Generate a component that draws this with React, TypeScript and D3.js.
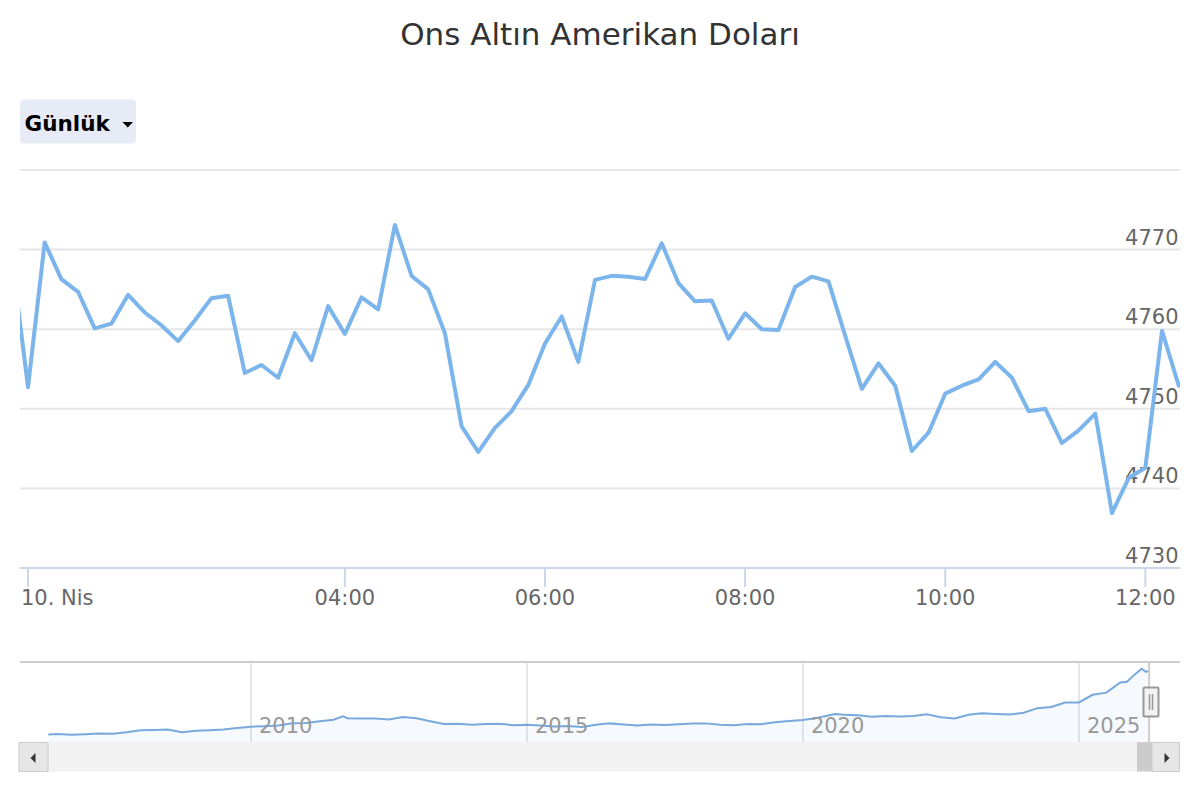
import React from "react";
import * as d3 from "d3";

// ---------- DATA ----------
const TITLE = "Ons Altın Amerikan Doları";
const RANGE_LABEL = "Günlük";

// intraday price, one point per 10 minutes (index 0 is just left of the plot)
const priceValues: number[] = [
  4769.6, 4752.7, 4770.9, 4766.3, 4764.7, 4760.1, 4760.7, 4764.3, 4762.1, 4760.5,
  4758.5, 4761.1, 4763.9, 4764.2, 4754.5, 4755.5, 4753.9, 4759.5, 4756.1, 4762.9,
  4759.4, 4764.0, 4762.5, 4773.1, 4766.7, 4765.0, 4759.5, 4747.8, 4744.6, 4747.6,
  4749.7, 4753.0, 4758.2, 4761.6, 4755.9, 4766.2, 4766.7, 4766.6, 4766.3, 4770.8,
  4765.8, 4763.5, 4763.6, 4758.8, 4762.0, 4760.0, 4759.9, 4765.3, 4766.6, 4766.0,
  4759.2, 4752.5, 4755.7, 4752.9, 4744.7, 4747.0, 4751.9, 4752.9, 4753.7, 4755.9,
  4753.9, 4749.7, 4750.0, 4745.7, 4747.3, 4749.4, 4736.9, 4741.3, 4742.6, 4759.8,
  4752.9,
];

const xTickIndex: number[] = [1, 20, 32, 44, 56, 68];
const xTickLabels: string[] = ["10. Nis", "04:00", "06:00", "08:00", "10:00", "12:00"];
const yTicks: number[] = [4730, 4740, 4750, 4760, 4770, 4780];

// navigator: long-term history
const navDates: string[] = [
  "2006-05-01", "2006-07-01", "2006-10-01", "2007-01-01", "2007-04-01", "2007-07-01", "2007-10-01",
  "2008-01-01", "2008-04-01", "2008-07-01", "2008-10-01", "2009-01-01", "2009-04-01", "2009-07-01",
  "2009-10-01", "2010-01-01", "2010-04-01", "2010-07-01", "2010-10-01", "2011-01-01", "2011-04-01",
  "2011-07-01", "2011-09-01", "2011-10-01", "2012-01-01", "2012-04-01", "2012-07-01", "2012-10-01",
  "2013-01-01", "2013-04-01", "2013-07-01", "2013-10-01", "2014-01-01", "2014-04-01", "2014-07-01",
  "2014-10-01", "2015-01-01", "2015-04-01", "2015-07-01", "2015-10-01", "2016-01-01", "2016-04-01",
  "2016-07-01", "2016-10-01", "2017-01-01", "2017-04-01", "2017-07-01", "2017-10-01", "2018-01-01",
  "2018-04-01", "2018-07-01", "2018-10-01", "2019-01-01", "2019-04-01", "2019-07-01", "2019-10-01",
  "2020-01-01", "2020-04-01", "2020-08-01", "2020-10-01", "2021-01-01", "2021-04-01", "2021-07-01",
  "2021-10-01", "2022-01-01", "2022-04-01", "2022-07-01", "2022-10-01", "2023-01-01", "2023-04-01",
  "2023-07-01", "2023-10-01", "2024-01-01", "2024-04-01", "2024-07-01", "2024-10-01", "2025-01-01",
  "2025-04-01", "2025-07-01", "2025-10-01", "2025-11-15", "2026-01-01", "2026-02-20", "2026-03-20",
  "2026-04-10",
];
const navValues: number[] = [
  610, 635, 590, 630, 680, 665, 755,
  890, 910, 940, 760, 860, 890, 935,
  1040, 1120, 1150, 1195, 1340, 1360, 1470,
  1570, 1800, 1670, 1650, 1650, 1590, 1750,
  1670, 1480, 1290, 1310, 1240, 1300, 1310,
  1220, 1250, 1200, 1130, 1160, 1095, 1240,
  1335, 1265, 1190, 1265, 1235, 1280, 1330,
  1335, 1240, 1215, 1290, 1285, 1410, 1495,
  1560, 1680, 1950, 1900, 1865, 1760, 1810,
  1780, 1815, 1935, 1730, 1660, 1900, 2000,
  1950, 1915, 2035, 2330, 2400, 2690, 2700,
  3200, 3340, 4000, 4050, 4500, 4900, 4700,
  4750,
];
const navYearTicks: number[] = [2010, 2015, 2020, 2025];

// ---------- CHART ----------
const FONT = "DejaVu Sans, Verdana, sans-serif";

export default function App() {
  const plotLeft = 20;
  const plotRight = 1180;
  const plotTop = 170;
  const plotBottom = 568;

  const x = d3.scaleLinear().domain([1, 70]).range([28, 1178.7]);
  const y = d3.scaleLinear().domain([4730, 4780]).range([plotBottom, plotTop]);

  const line = d3
    .line<number>()
    .x((_, i) => x(i))
    .y((d) => y(d));

  // navigator
  const navTop = 662;
  const navBottom = 742;
  const nx = d3
    .scaleTime()
    .domain([new Date(2010, 0, 1), new Date(2025, 0, 1)])
    .range([251, 1079]);
  const ny = d3.scaleLinear().domain([120, 5340]).range([navBottom, navTop]);
  const navData = navDates.map((d, i) => ({ t: new Date(d), v: navValues[i] }));
  const navLine = d3
    .line<{ t: Date; v: number }>()
    .x((d) => nx(d.t))
    .y((d) => ny(d.v));
  const navArea = d3
    .area<{ t: Date; v: number }>()
    .x((d) => nx(d.t))
    .y0(navBottom)
    .y1((d) => ny(d.v));
  const selX = nx(new Date(navDates[navDates.length - 1]));

  return (
    <div style={{ position: "absolute", left: 0, top: 0 }}>
      <svg width={1200} height={800} style={{ display: "block", background: "#fff" }}>
        <defs>
          <clipPath id="plotClip">
            <rect x={plotLeft} y={plotTop - 10} width={plotRight - plotLeft} height={plotBottom - plotTop + 20} />
          </clipPath>
        </defs>

        {/* title */}
        <text x={600} y={45} textAnchor="middle" fontFamily={FONT} fontSize={31} fill="#333333">
          {TITLE}
        </text>

        {/* range button */}
        <rect x={20} y={99.5} width={116} height={44} rx={4} fill="#e6ebf5" />
        <text x={24.5} y={131} fontFamily={FONT} fontSize={21.5} fontWeight="bold" fill="#000000">
          {RANGE_LABEL}
        </text>
        <path d="M122.5,122 L133,122 L127.75,127.5 Z" fill="#000000" />

        {/* gridlines */}
        {yTicks.map((t) => (
          <line key={t} x1={plotLeft} x2={plotRight} y1={y(t)} y2={y(t)} stroke="#e6e6e6" strokeWidth={2} />
        ))}

        {/* y labels (right, above gridline) */}
        {yTicks
          .filter((t) => t !== 4780)
          .map((t) => (
            <text key={t} x={1178.5} y={y(t) - 5} textAnchor="end" fontFamily={FONT} fontSize={21} fill="#666666">
              {t}
            </text>
          ))}

        {/* x axis */}
        <line x1={plotLeft} x2={plotRight} y1={plotBottom} y2={plotBottom} stroke="#ccd6eb" strokeWidth={2} />
        {xTickIndex.map((idx, i) => (
          <g key={idx}>
            <line x1={x(idx)} x2={x(idx)} y1={plotBottom} y2={plotBottom + 19} stroke="#ccd6eb" strokeWidth={2} />
            <text
              x={i === 0 ? 21 : x(idx)}
              y={605}
              textAnchor={i === 0 ? "start" : "middle"}
              fontFamily={FONT}
              fontSize={21}
              fill="#666666"
            >
              {xTickLabels[i]}
            </text>
          </g>
        ))}

        {/* main series */}
        <path
          d={line(priceValues) || ""}
          fill="none"
          stroke="#7cb5ec"
          strokeWidth={4}
          strokeLinejoin="round"
          strokeLinecap="round"
          clipPath="url(#plotClip)"
        />

        {/* navigator */}
        {navYearTicks.map((yr) => {
          const xx = nx(new Date(yr, 0, 1));
          return (
            <g key={yr}>
              <line x1={xx} x2={xx} y1={navTop} y2={navBottom} stroke="#e6e6e6" strokeWidth={2} />
            </g>
          );
        })}
        <path d={navArea(navData) || ""} fill="#7cb5ec" fillOpacity={0.07} />
        <path d={navLine(navData) || ""} fill="none" stroke="#78a9dc" strokeWidth={2} />
        {navYearTicks.map((yr) => {
          const xx = nx(new Date(yr, 0, 1));
          return (
            <text key={yr} x={xx + 8} y={733} fontFamily={FONT} fontSize={21} fill="#999999">
              {yr}
            </text>
          );
        })}
        <line x1={plotLeft} x2={plotRight} y1={navTop} y2={navTop} stroke="#cccccc" strokeWidth={2} />
        <line x1={selX} x2={selX} y1={navTop} y2={navBottom} stroke="#cccccc" strokeWidth={2} />

        {/* handle */}
        <rect x={1143.5} y={687.5} width={15} height={29} rx={1} fill="#f2f2f2" stroke="#999999" strokeWidth={2} />
        <line x1={1149.5} x2={1149.5} y1={694} y2={710} stroke="#999999" strokeWidth={1.5} />
        <line x1={1152.5} x2={1152.5} y1={694} y2={710} stroke="#999999" strokeWidth={1.5} />

        {/* scrollbar */}
        <rect x={20} y={742} width={1160} height={29.5} fill="#f2f2f2" />
        <rect x={1137} y={742} width={15} height={29.5} fill="#cccccc" />
        <rect x={19} y={742.5} width={29} height={29} fill="#e6e6e6" stroke="#cccccc" strokeWidth={1} />
        <path d="M35.5,753 L35.5,763 L30.5,758 Z" fill="#333333" />
        <rect x={1152} y={742.5} width={27.5} height={29} fill="#e6e6e6" stroke="#cccccc" strokeWidth={1} />
        <path d="M1164.5,753 L1164.5,763 L1169.5,758 Z" fill="#333333" />
      </svg>
    </div>
  );
}
